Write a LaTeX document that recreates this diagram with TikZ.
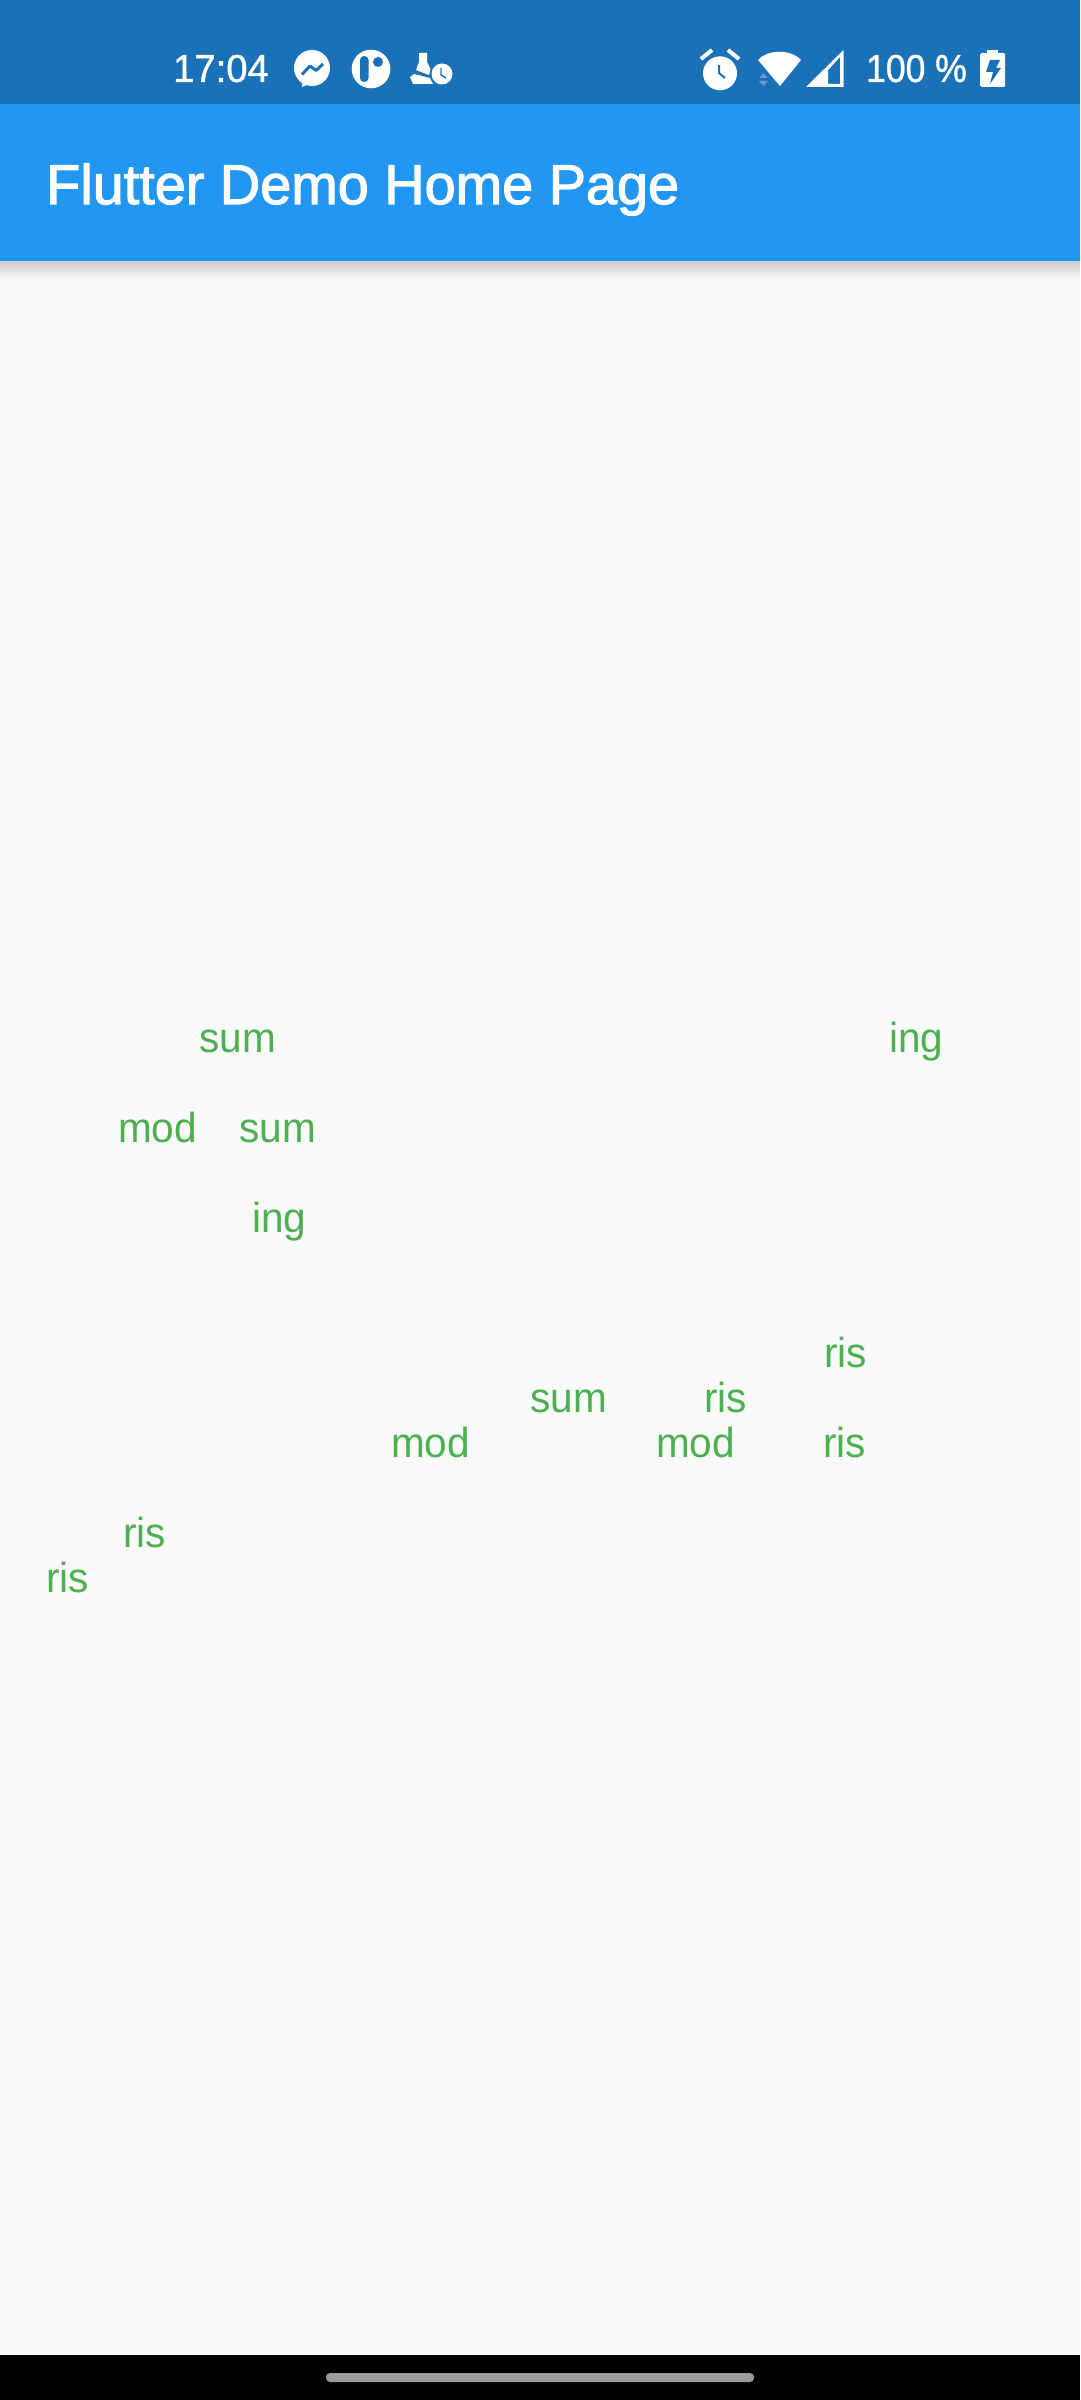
\documentclass[tikz,border=0pt]{standalone}
\usepackage{fontspec}
\setmainfont{Liberation Sans}
\newfontfamily\wordfont[FakeStretch=0.965]{Liberation Sans}
\newfontfamily\titlefont[FakeStretch=0.997,FakeBold=2]{Liberation Sans}
\newfontfamily\clockfont[FakeStretch=0.98,FakeBold=1]{Liberation Sans}
\newfontfamily\battfont[FakeStretch=0.91,FakeBold=1]{Liberation Sans}
\definecolor{statusblue}{HTML}{1A71B8}
\definecolor{appblue}{HTML}{2196F3}
\definecolor{pagebg}{HTML}{FAFAFA}
\definecolor{wordgreen}{HTML}{4CAF50}
\definecolor{pill}{HTML}{9B9B9B}
\tikzset{
  word/.style={anchor=base west,inner sep=0pt,text=wordgreen,font=\wordfont\fontsize{42}{42}\selectfont},
  white text/.style={anchor=base west,inner sep=0pt,text=white},
}
\begin{document}
\begin{tikzpicture}[x=1pt,y=-1pt]
\useasboundingbox (0,0) rectangle (1080,2400);
\fill[pagebg] (0,0) rectangle (1080,2400);
% app bar shadow
\foreach \i in {0,2,4,6,8,10,12,14}{
  \fill[black,opacity=0.02] (0,261) rectangle (1080,{261+18-\i});
}
\fill[statusblue] (0,0) rectangle (1080,104);
\fill[appblue] (0,104) rectangle (1080,261);
\node[white text,font=\titlefont\fontsize{56}{56}\selectfont] (title) at (46,204) {Flutter Demo Home Page};
% status bar
\node[white text,font=\clockfont\fontsize{39}{39}\selectfont] (clock) at (173,82) {17:04};
% messenger
\fill[white] (312,68) circle (18);
\fill[white] (302,80) -- (302,87) -- (311,83) -- cycle;
\draw[statusblue,line width=3,line join=round] (302,74.5) -- (310,66) -- (316,70.5) -- (323,64);
% round icon
\fill[white] (371,69) circle (19.3);
\fill[statusblue,rounded corners=4] (360,56) rectangle (368.5,82);
\fill[statusblue] (378,62) circle (5);
% flask with clock
\fill[white] (419,53) -- (427,53) -- (427,62) -- (431,70) -- (429,75) -- (416,70) -- (419,62) -- cycle;
\fill[white] (410,77) -- (414,74) -- (430,78) -- (433,84) -- (413,84) -- cycle;
\fill[statusblue] (442,74) circle (12.5);
\fill[white] (442,74) circle (10.5);
\draw[statusblue,line width=1.4] (441,68) -- (441,75) -- (446,78);
% alarm
\fill[white] (720,73.3) circle (17);
\draw[statusblue,line width=2] (719,65) -- (719,73) -- (725,78);
\draw[white,line width=4] (701,59) -- (712,50);
\draw[white,line width=4] (739,59) -- (728,50);
% wifi
\fill[white] (758,60) .. controls (768,49) and (791,49) .. (801,60) -- (780,86) -- cycle;
\fill[white,opacity=0.3] (763.5,73) -- (768,78) -- (759,78) -- cycle;
\fill[white,opacity=0.3] (763.5,86) -- (768,81) -- (759,81) -- cycle;
% signal
\fill[white,even odd rule] (806,87) -- (843.5,50) -- (843.5,87) -- cycle (828,70) -- (828,84) -- (840,84) -- (840,57) -- cycle;
% percent
\node[white text,font=\battfont\fontsize{39}{39}\selectfont] (batt) at (866,82) {100 \%};
% battery
\fill[white,rounded corners=1.5] (980,53) rectangle (1005,87);
\fill[white] (987,50) rectangle (998,55);
\fill[statusblue] (990,60) -- (1000,60) -- (996,68) -- (1001,68) -- (990,84) -- (993,72) -- (986,72) -- cycle;
% words
\node[word] (w1) at (199,1052) {sum};
\node[word] (w2) at (889,1052) {ing};
\node[word] (w3) at (118,1142) {mod};
\node[word] (w4) at (239,1142) {sum};
\node[word] (w5) at (252,1232) {ing};
\node[word] (w6) at (824,1367) {ris};
\node[word] (w7) at (530,1412) {sum};
\node[word] (w8) at (704,1412) {ris};
\node[word] (w9) at (391,1457) {mod};
\node[word] (w10) at (656,1457) {mod};
\node[word] (w11) at (823,1457) {ris};
\node[word] (w12) at (123,1547) {ris};
\node[word] (w13) at (46,1592) {ris};
% nav bar
\fill[black] (0,2355) rectangle (1080,2400);
\fill[pill,rounded corners=4] (326,2373) rectangle (754,2382);
\end{tikzpicture}
\end{document}
